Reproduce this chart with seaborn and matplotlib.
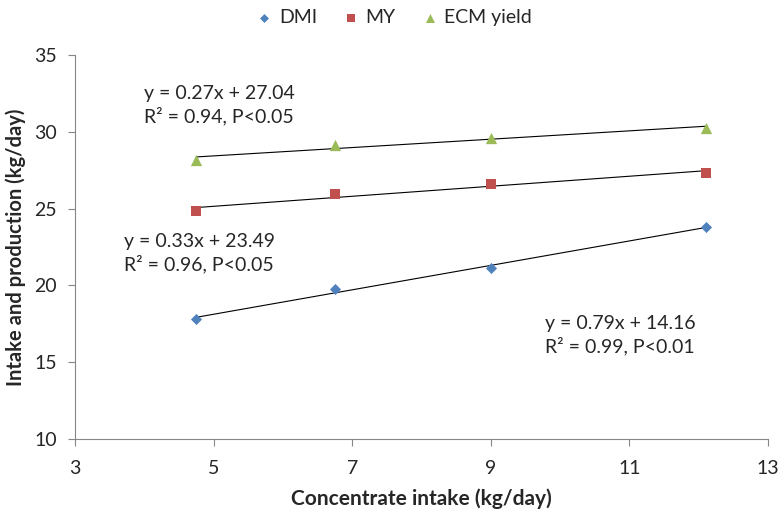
"""Intake and production vs concentrate intake, with linear trend lines."""

import matplotlib
matplotlib.use("Agg")
import matplotlib.pyplot as plt
import numpy as np
import pandas as pd
import seaborn as sns

CONC_INTAKE = [4.75, 6.75, 9.0, 12.1]
DMI = [17.81, 19.77, 21.13, 23.80]
MY = [24.84, 25.95, 26.60, 27.32]
ECM_YIELD = [28.16, 29.14, 29.60, 30.25]

SERIES = ["DMI", "MY", "ECM yield"]
COLORS = {"DMI": "#4F81BD", "MY": "#C0504D", "ECM yield": "#9BBB59"}
MARKERS = {"DMI": "D", "MY": "s", "ECM yield": "^"}

EQUATIONS = {
    "ECM yield": "y = 0.27x + 27.04\nR² = 0.94, P<0.05",
    "MY": "y = 0.33x + 23.49\nR² = 0.96, P<0.05",
    "DMI": "y = 0.79x + 14.16\nR² = 0.99, P<0.01",
}
# label anchors (data coords, left / vertical centre)
EQ_POS = {"ECM yield": (4.0, 31.74), "MY": (3.71, 22.11), "DMI": (9.78, 16.74)}

sns.set_theme(style="white")
plt.rcParams["font.family"] = ["Lato", "DejaVu Sans"]

df = pd.DataFrame({
    "conc": CONC_INTAKE * 3,
    "value": DMI + MY + ECM_YIELD,
    "series": np.repeat(SERIES, len(CONC_INTAKE)),
})

fig = plt.figure(figsize=(7.82, 5.13), dpi=100)
ax = fig.add_axes([0.0959, 0.1442, 0.8861, 0.7486])

for name in SERIES:
    sub = df[df["series"] == name]
    sns.regplot(data=sub, x="conc", y="value", ax=ax, scatter=False, ci=None,
                line_kws={"color": "black", "linewidth": 0.8})

sizes = {"DMI": 32, "MY": 58, "ECM yield": 66}
for name in SERIES:
    sub = df[df["series"] == name]
    sns.scatterplot(data=sub, x="conc", y="value", ax=ax, color=COLORS[name],
                    marker=MARKERS[name], s=sizes[name], linewidth=0, label=name, zorder=3)

for name, txt in EQUATIONS.items():
    x, y = EQ_POS[name]
    ax.text(x, y, txt, fontsize=14, va="center", ha="left", linespacing=1.3)

ax.set_xlim(3, 13)
ax.set_ylim(10, 35)
ax.set_xticks(range(3, 14, 2))
ax.set_yticks(range(10, 36, 5))
ax.tick_params(axis="both", labelsize=14, length=5, width=0.8, color="#868686",
               direction="out", left=True, bottom=True)
ax.tick_params(axis="x", pad=10)
ax.tick_params(axis="y", pad=8)
for side in ["top", "right"]:
    ax.spines[side].set_visible(False)
for side in ["left", "bottom"]:
    ax.spines[side].set_color("#868686")
    ax.spines[side].set_linewidth(0.8)

ax.set_xlabel("Concentrate intake (kg/day)", fontsize=15, fontweight="bold", labelpad=8)
ax.set_ylabel("Intake and production (kg/day)", fontsize=14.5, fontweight="bold", labelpad=6)

handles, labels = ax.get_legend_handles_labels()
ax.legend().remove()
fig.legend(handles, labels, loc="center", bbox_to_anchor=(0.505, 0.966), ncol=3, frameon=False,
           fontsize=14, handlelength=0.7, handletextpad=0.4, columnspacing=1.4, markerscale=0.8)

fig.savefig("out.png", dpi=100)
